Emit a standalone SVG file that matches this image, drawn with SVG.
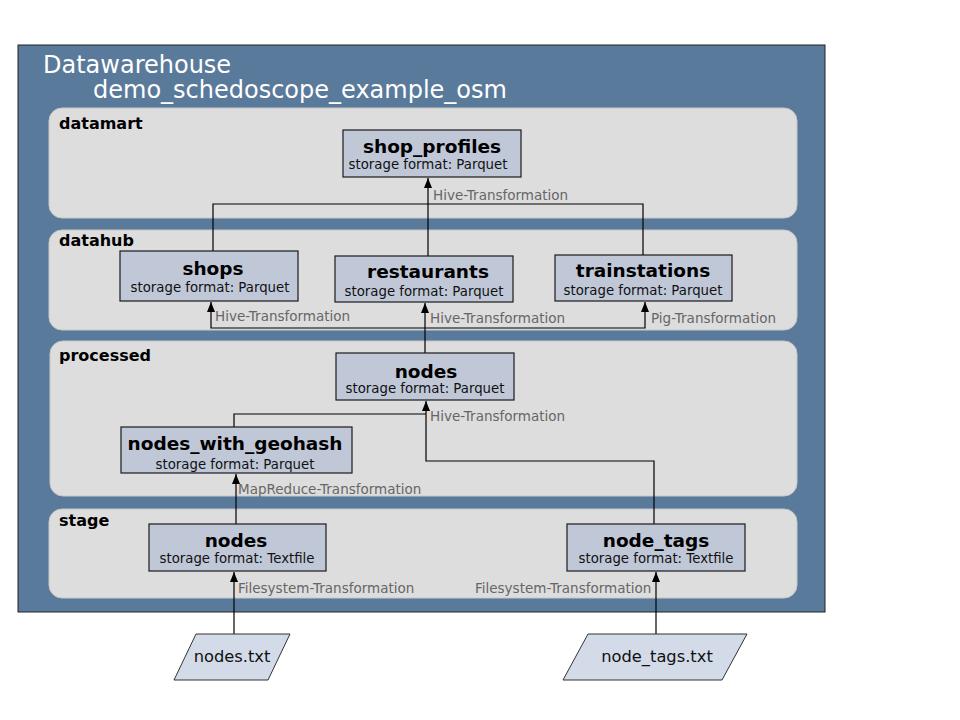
<svg xmlns="http://www.w3.org/2000/svg" width="960" height="720" viewBox="0 0 960 720">
<defs>
<marker id="ah" markerWidth="10" markerHeight="8" refX="10" refY="4" orient="auto" markerUnits="userSpaceOnUse" viewBox="0 0 10 8">
<path d="M0,0 L10,4 L0,8 Z" fill="#000"/>
</marker>
</defs>
<style>
.lane{fill:#dddddd;stroke:#c8c8c8;stroke-width:1}
.lbl{font-family:"DejaVu Sans",sans-serif;font-size:16px;font-weight:bold;fill:#000}
.box{fill:#c0c8d8;stroke:#1a1a1a;stroke-width:1.2}
.t{font-family:"DejaVu Sans",sans-serif;font-size:18.5px;font-weight:bold;fill:#000;text-anchor:middle}
.s{font-family:"DejaVu Sans",sans-serif;font-size:13.3px;fill:#111;text-anchor:middle}
.c{fill:none;stroke:#000;stroke-width:1.2}
.cl{font-family:"DejaVu Sans",sans-serif;font-size:13.5px;fill:#666}
.file{fill:#d3dbe8;stroke:#333;stroke-width:1}
.ft{font-family:"DejaVu Sans",sans-serif;font-size:16.3px;fill:#111;text-anchor:middle}
.hd{font-family:"DejaVu Sans",sans-serif;font-size:24px;fill:#fff}
</style>
<rect width="960" height="720" fill="#fff"/>
<g id="datawarehouse">
<rect x="18" y="45" width="807" height="567" fill="#5a7a9b" stroke="#222" stroke-width="1"/>
<text class="hd" x="43" y="73">Datawarehouse</text>
<text class="hd" x="93" y="98">demo_schedoscope_example_osm</text>
</g>
<g id="lane-datamart"><rect class="lane" x="49" y="108" width="748" height="110" rx="13"/><text class="lbl" x="59" y="129">datamart</text></g>
<g id="lane-datahub"><rect class="lane" x="49" y="230" width="748" height="100" rx="13"/><text class="lbl" x="59" y="246">datahub</text></g>
<g id="lane-processed"><rect class="lane" x="50" y="341" width="747" height="155" rx="13"/><text class="lbl" x="59" y="361">processed</text></g>
<g id="lane-stage"><rect class="lane" x="49" y="509" width="748" height="89" rx="13"/><text class="lbl" x="59" y="526">stage</text></g>
<g id="connectors">
<path class="c" d="M213,251 V204 H643 V255"/>
<line class="c" x1="428" y1="256" x2="428" y2="178" marker-end="url(#ah)"/>
<text class="cl" x="433" y="200">Hive-Transformation</text>
<line class="c" x1="425" y1="353" x2="425" y2="303" marker-end="url(#ah)"/>
<path class="c" d="M425,328 H211 V302" marker-end="url(#ah)"/>
<path class="c" d="M425,328 H645 V302" marker-end="url(#ah)"/>
<text class="cl" x="215" y="321">Hive-Transformation</text>
<text class="cl" x="430" y="323">Hive-Transformation</text>
<text class="cl" x="651" y="323">Pig-Transformation</text>
<path class="c" d="M234,427 V414 H426"/>
<path class="c" d="M654,524 V461 H426 V401" marker-end="url(#ah)"/>
<text class="cl" x="430" y="421">Hive-Transformation</text>
<line class="c" x1="236" y1="524" x2="236" y2="474" marker-end="url(#ah)"/>
<text class="cl" x="238" y="494">MapReduce-Transformation</text>
<line class="c" x1="234" y1="634" x2="234" y2="572" marker-end="url(#ah)"/>
<text class="cl" x="238" y="593">Filesystem-Transformation</text>
<line class="c" x1="656" y1="634" x2="656" y2="572" marker-end="url(#ah)"/>
<text class="cl" x="475" y="593">Filesystem-Transformation</text>
</g>
<g id="shop_profiles"><rect class="box" x="343" y="130" width="178" height="47"/><text class="t" x="432" y="153">shop_profiles</text><text class="s" x="428" y="169">storage format: Parquet</text></g>
<g id="shops"><rect class="box" x="120" y="251" width="178" height="50"/><text class="t" x="213" y="275">shops</text><text class="s" x="210" y="292">storage format: Parquet</text></g>
<g id="restaurants"><rect class="box" x="335" y="256" width="178" height="46"/><text class="t" x="428" y="278">restaurants</text><text class="s" x="424" y="296">storage format: Parquet</text></g>
<g id="trainstations"><rect class="box" x="555" y="255" width="177" height="46"/><text class="t" x="643" y="277">trainstations</text><text class="s" x="643" y="295">storage format: Parquet</text></g>
<g id="nodes-processed"><rect class="box" x="336" y="353" width="178" height="47"/><text class="t" x="426" y="378">nodes</text><text class="s" x="425" y="393">storage format: Parquet</text></g>
<g id="nodes_with_geohash"><rect class="box" x="121" y="427" width="231" height="46"/><text class="t" x="235" y="450">nodes_with_geohash</text><text class="s" x="235" y="469">storage format: Parquet</text></g>
<g id="nodes-stage"><rect class="box" x="149" y="524" width="177" height="47"/><text class="t" x="236" y="547">nodes</text><text class="s" x="237" y="563">storage format: Textfile</text></g>
<g id="node_tags"><rect class="box" x="567" y="524" width="178" height="47"/><text class="t" x="656" y="547">node_tags</text><text class="s" x="656" y="563">storage format: Textfile</text></g>
<g id="nodes_txt"><polygon class="file" points="196,634 290,634 268,680 174,680"/><text class="ft" x="232" y="662">nodes.txt</text></g>
<g id="node_tags_txt"><polygon class="file" points="588,634 747,634 722,680 563,680"/><text class="ft" x="657" y="662">node_tags.txt</text></g>
</svg>
